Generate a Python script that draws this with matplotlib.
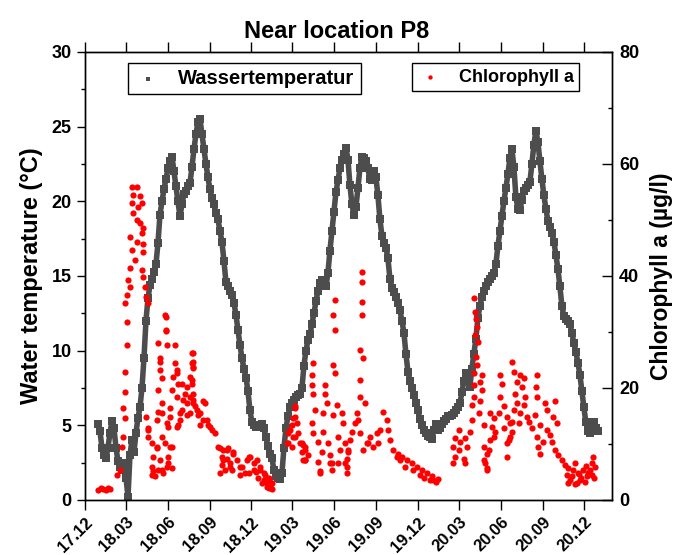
import datetime as dt
import numpy as np
import matplotlib
matplotlib.use("Agg")
import matplotlib.pyplot as plt
import matplotlib.dates as mdates
from matplotlib.ticker import MultipleLocator

plt.rcParams['font.family'] = ['Liberation Sans', 'DejaVu Sans']
plt.rcParams['font.weight'] = 'bold'

# reference date, all day offsets below count from here
origin = dt.datetime(2017, 12, 1)

# water temperature (degC), logged every ~4.4 days starting 29.12.2017
temp_first_day = 28.5
temp_step = 4.39
water_temp = [
    5.1, 4.6, 3.5, 3.0, 2.8, 3.5, 4.5, 5.3, 4.8, 3.5, 2.6, 2.2, 2.0, 2.5, 1.5, 0.2,
    3.0, 4.0, 3.2, 4.5, 5.5, 6.2, 7.5, 9.5, 12.0, 13.5, 14.4, 14.8, 15.3, 15.8, 17.2, 19.1,
    20.0, 20.8, 21.5, 22.2, 22.7, 23.0, 22.0, 21.0, 20.0, 19.0, 19.8, 20.5, 20.7, 21.0, 21.2, 22.3,
    23.5, 24.5, 25.3, 25.5, 24.5, 23.5, 22.5, 21.6, 20.8, 20.2, 19.8, 19.2, 18.8, 18.0, 17.3, 16.0,
    14.6, 14.3, 14.0, 13.7, 13.2, 12.4, 11.4, 10.4, 9.5, 8.8, 8.2, 7.3, 6.0, 5.2, 5.0, 4.9,
    5.0, 5.0, 5.1, 4.8, 4.2, 3.6, 3.1, 2.8, 2.0, 1.6, 1.5, 1.4, 1.8, 3.5, 4.8, 5.6,
    6.2, 6.5, 6.7, 6.9, 7.0, 7.1, 7.5, 9.0, 10.0, 10.7, 11.1, 11.8, 12.5, 13.3, 14.0, 14.5,
    14.7, 14.5, 14.3, 15.2, 16.7, 18.0, 19.3, 20.6, 21.4, 22.2, 22.8, 23.2, 23.6, 22.8, 21.1, 19.8,
    19.1, 19.6, 20.9, 22.2, 23.0, 22.9, 22.7, 22.2, 21.5, 21.4, 22.0, 21.6, 20.4, 18.8, 17.7, 17.2,
    16.9, 16.2, 14.8, 14.2, 13.9, 13.6, 13.2, 12.7, 12.0, 11.2, 9.8, 8.6, 8.0, 7.5, 7.0, 6.5,
    6.0, 5.4, 5.0, 4.7, 4.5, 4.3, 4.2, 4.1, 4.7, 5.1, 4.7, 4.8, 5.1, 5.3, 5.4, 5.6,
    5.6, 5.7, 5.8, 6.0, 6.2, 6.5, 7.2, 8.0, 8.5, 8.2, 7.6, 8.8, 9.8, 10.8, 12.2, 13.0,
    13.6, 14.0, 14.3, 14.6, 14.8, 15.0, 15.2, 15.8, 17.0, 18.0, 19.0, 20.0, 20.9, 21.8, 22.9, 23.5,
    22.3, 20.3, 19.5, 19.4, 20.1, 20.7, 20.9, 21.1, 21.3, 22.5, 23.8, 24.7, 24.0, 22.7, 21.5, 20.4,
    19.5, 18.7, 18.3, 17.9, 17.3, 16.4, 15.5, 14.3, 13.0, 12.3, 12.1, 12.0, 11.8, 11.2, 10.5, 9.9,
    9.2, 8.4, 7.3, 6.2, 5.2, 4.6, 4.5, 5.1, 5.2, 4.8, 4.6,
]

# chlorophyll a samples: (day offset, ug/l)
chl_2018 = [
    (29, 1.8), (35, 2.1), (40, 2.0), (46, 1.8), (51, 2.1), (55, 2.0),
    (103, 55.9), (114, 55.9), (106, 54.5), (121, 54.2), (103, 53.0), (117, 52.4), (125, 53.0),
    (106, 51.2), (114, 50.0), (121, 49.4), (128, 48.5), (125, 47.6), (99, 47.0), (114, 46.1),
    (128, 45.8), (103, 44.6), (128, 44.3), (110, 42.9), (99, 41.4), (125, 41.1), (95, 39.3),
    (128, 39.9), (99, 38.1), (132, 38.1), (92, 36.6), (135, 36.3), (139, 35.1), (88, 35.1),
    (92, 31.8), (92, 27.7), (88, 22.9), (88, 19.3), (84, 16.4), (88, 14.6), (84, 11.3),
    (81, 9.5), (77, 5.4), (70, 4.5),
    (178, 32.7), (178, 30.1), (161, 28.0), (179, 27.7), (198, 27.7), (165, 24.7), (198, 24.4),
    (234, 26.2), (234, 24.4), (168, 21.7), (201, 22.6), (231, 22.0), (161, 19.6), (190, 19.6),
    (205, 20.8), (223, 20.2), (231, 18.4), (216, 17.9), (238, 17.3), (245, 16.1), (168, 17.3),
    (161, 15.8), (187, 16.4), (209, 15.5), (223, 15.2), (135, 14.9), (139, 12.8), (179, 13.7),
    (201, 13.1), (139, 11.3), (146, 10.1), (157, 9.5), (168, 11.3), (187, 9.5), (150, 7.7),
    (165, 7.1), (183, 6.6), (150, 5.1), (168, 5.4), (190, 5.7), (146, 4.5),
    (176, 33.0), (178, 30.4), (238, 23.8), (165, 25.3), (165, 23.2), (201, 23.2), (212, 20.8),
    (234, 20.8), (194, 22.0), (220, 19.0), (201, 18.4), (238, 19.0), (223, 17.3), (242, 16.7),
    (264, 17.3), (212, 16.1), (231, 15.5), (249, 15.2), (260, 14.3), (271, 13.4), (278, 12.5),
    (285, 11.9), (253, 13.4), (209, 14.3), (187, 14.9), (168, 15.5), (157, 14.3), (183, 13.1),
    (205, 13.4), (139, 12.5), (157, 9.2), (176, 10.1), (190, 9.5), (183, 7.7), (146, 5.9),
    (161, 5.4), (179, 5.9), (154, 4.2), (172, 4.8),
    (238, 26.2), (238, 24.7), (238, 23.5), (234, 21.4), (238, 17.9), (260, 17.6), (253, 15.5),
    (267, 14.3), (275, 13.1),
    (296, 9.2), (311, 8.9), (326, 8.6), (304, 7.1), (333, 7.1), (296, 4.8), (318, 5.9),
    (359, 7.7), (370, 6.6), (344, 5.9), (384, 5.4), (359, 4.8), (395, 4.5), (406, 3.3),
    (403, 2.1), (340, 4.5), (293, 9.5), (304, 8.9), (315, 9.2), (300, 7.7), (311, 7.4),
    (326, 8.3), (300, 6.3), (318, 6.6), (307, 5.4), (340, 5.9), (355, 7.1), (362, 7.7),
    (377, 7.1), (384, 5.9), (351, 4.8), (370, 5.4), (392, 4.8), (403, 3.9), (410, 3.0),
    (399, 2.4), (322, 5.4), (392, 3.5), (399, 3.0), (406, 2.5), (410, 1.9), (380, 4.0),
    (388, 3.0), (375, 5.0),
]

chl_2019 = [
    (461, 16.7), (461, 14.9), (454, 13.4), (446, 11.9), (457, 11.3), (468, 11.9), (443, 10.1),
    (454, 9.5), (472, 10.1), (483, 9.5), (476, 8.6), (483, 7.1), (490, 8.0), (461, 16.4),
    (457, 14.6), (450, 12.5), (446, 10.1), (465, 13.7), (461, 11.3), (476, 10.1), (483, 8.9),
    (479, 7.1),
    (608, 40.8), (608, 39.0), (608, 35.4), (608, 33.0), (549, 35.7), (545, 33.0), (549, 30.4),
    (604, 26.8), (610, 25.3), (545, 24.1), (549, 22.6), (604, 21.4), (501, 24.4), (498, 22.3),
    (498, 20.5), (501, 19.0), (527, 20.5), (527, 19.0), (604, 18.4), (615, 17.3), (531, 17.3),
    (553, 17.0), (505, 16.1), (523, 15.5), (545, 15.2), (564, 15.5), (597, 15.5), (567, 13.7),
    (593, 13.7), (498, 13.7), (523, 12.2), (501, 11.9), (556, 11.3), (586, 12.2), (604, 11.9),
    (512, 10.4), (534, 10.1), (571, 10.1), (582, 10.7), (622, 10.1), (479, 9.8), (560, 8.9),
    (578, 8.6), (520, 8.6), (538, 8.0), (483, 7.1), (512, 6.8), (542, 6.6), (575, 5.9),
    (516, 5.1), (542, 5.4), (556, 6.6), (575, 7.4),
    (655, 15.8), (663, 14.3), (648, 12.5), (641, 11.9), (626, 11.3), (619, 10.1), (633, 9.5),
    (644, 10.1), (666, 12.5), (670, 10.7), (677, 8.9), (688, 8.3), (695, 7.7), (706, 7.1),
    (717, 6.6), (728, 5.9), (739, 5.4), (750, 4.8), (761, 4.2), (765, 3.6), (703, 5.9),
    (721, 5.4), (736, 4.5), (692, 7.1), (685, 7.7), (600, 14.3), (611, 8.9), (578, 8.9),
    (575, 4.8), (571, 6.6), (538, 6.6), (516, 4.8), (770, 3.2), (775, 3.8), (757, 3.5),
    (745, 4.0),
]

chl_2020 = [
    (853, 36.0), (856, 33.6), (859, 32.4), (860, 30.9), (856, 29.5), (862, 28.3), (859, 25.6),
    (860, 24.1), (853, 22.6), (871, 22.3), (867, 21.1), (853, 20.5), (871, 19.6), (853, 18.4),
    (867, 17.6), (849, 17.0), (864, 15.5), (849, 14.3), (845, 12.2), (875, 13.4), (820, 12.5),
    (813, 11.0), (824, 10.4), (834, 11.0), (809, 9.5), (820, 8.9), (838, 9.5), (813, 7.7),
    (831, 7.4), (809, 6.6), (834, 6.6), (875, 9.5), (882, 8.3), (878, 6.6), (882, 5.4),
    (889, 15.5), (897, 14.6), (893, 13.1), (900, 12.2), (889, 10.7), (911, 22.3), (915, 20.8),
    (911, 18.4), (919, 16.7), (908, 15.5), (926, 14.9), (933, 13.7), (919, 12.8), (933, 11.3),
    (926, 10.1), (937, 24.7), (941, 22.9), (955, 22.3), (948, 21.1), (963, 21.7), (959, 20.2),
    (944, 19.0), (966, 18.4), (948, 17.3), (963, 17.0), (941, 16.1), (955, 15.5), (952, 13.7),
    (937, 14.0), (970, 14.9), (992, 22.3), (990, 20.2), (992, 18.4), (1010, 17.3), (1032, 17.6),
    (1014, 16.1), (1028, 14.9), (1036, 13.7), (988, 15.2), (974, 14.0), (981, 12.8), (999, 13.4),
    (1014, 12.5), (992, 11.3), (1006, 10.4), (1021, 11.6), (995, 9.5), (999, 8.3), (1025, 10.4),
    (1032, 8.9), (1039, 8.0), (1047, 7.1), (1054, 6.3), (1061, 5.7), (1072, 5.4), (1069, 4.2),
    (1083, 4.8), (1087, 3.6), (1094, 5.4), (1102, 4.2), (1109, 5.4), (1113, 6.6), (1116, 7.7),
    (1120, 5.9), (1076, 6.6), (886, 8.9), (897, 11.3), (875, 7.1), (882, 5.7), (930, 10.7),
    (937, 12.2), (926, 7.7), (1058, 4.5), (1065, 3.5), (1080, 3.0), (1090, 4.0), (1098, 3.2),
    (1105, 4.8), (1100, 6.0), (1112, 4.5), (1118, 4.0), (1060, 3.0), (1075, 2.8), (1085, 4.6),
]

t0 = mdates.date2num(origin)
temp_x = t0 + temp_first_day + np.arange(len(water_temp)) * temp_step
chl = np.array(chl_2018 + chl_2019 + chl_2020, dtype=float)
chl_x = t0 + chl[:, 0]
chl_y = chl[:, 1]

gray = '#4d4d4d'

fig = plt.figure(figsize=(6.82, 5.55), dpi=100)
ax = fig.add_axes([85 / 682, 55 / 555, 527 / 682, 448 / 555])
ax2 = ax.twinx()

# dense logger data -> thick band of squares
ax.plot(temp_x, water_temp, color=gray, lw=4, solid_capstyle='butt', zorder=1)
ax.scatter(temp_x, water_temp, marker='s', s=34, color=gray, linewidths=0,
           label='Wassertemperatur', zorder=2)
ax2.scatter(chl_x, chl_y, marker='o', s=20, color='red', linewidths=0,
            label='Chlorophyll a')

ax.set_xlim(t0, t0 + 1157)
ax.set_ylim(0, 30)
ax2.set_ylim(0, 80)

ax.xaxis.set_major_locator(mdates.MonthLocator(bymonth=(3, 6, 9, 12)))
ax.xaxis.set_major_formatter(mdates.DateFormatter('%y.%m'))
ax.yaxis.set_major_locator(MultipleLocator(5))
ax.yaxis.set_minor_locator(MultipleLocator(2.5))
ax2.yaxis.set_major_locator(MultipleLocator(20))
ax2.yaxis.set_minor_locator(MultipleLocator(10))

ax.tick_params(axis='y', which='major', direction='out', length=6, width=1, labelsize=13)
ax.tick_params(axis='y', which='minor', direction='out', length=3, width=1)
ax.tick_params(axis='x', which='major', direction='out', length=7, width=1, labelsize=12,
               top=True, labeltop=False)
ax2.tick_params(axis='y', which='major', direction='in', length=7, width=1, labelsize=13, pad=5)
ax2.tick_params(axis='y', which='minor', direction='in', length=3, width=1)
for lab in ax.get_xticklabels():
    lab.set_rotation(45)
    lab.set_ha('right')
    lab.set_rotation_mode('anchor')

for a in (ax, ax2):
    for sp in a.spines.values():
        sp.set_linewidth(1.0)
        sp.set_color('black')

ax.set_ylabel('Water temperature (\u00b0C)', fontsize=17, fontweight='bold', labelpad=6)
ax2.set_ylabel('Chlorophyll a (\u00b5g/l)', fontsize=16.5, fontweight='bold', labelpad=8)
fig.text(337 / 682, 1 - 31 / 555, 'Near location P8', fontsize=17, fontweight='bold',
         ha='center', va='center')

leg1 = ax.legend(loc='upper left', bbox_to_anchor=(0.0816, 0.975), borderaxespad=0,
                 fontsize=14.5, frameon=True, fancybox=False, edgecolor='black',
                 framealpha=1, handletextpad=0.8, borderpad=0.3, handlelength=1.4,
                 markerscale=0.55)
leg1.get_frame().set_linewidth(1.0)
leg2 = ax2.legend(loc='upper left', bbox_to_anchor=(0.6205, 0.975), borderaxespad=0,
                  fontsize=13, frameon=True, fancybox=False, edgecolor='black',
                  framealpha=1, handletextpad=0.9, borderpad=0.3, handlelength=1.4,
                  markerscale=0.7)
leg2.get_frame().set_linewidth(1.0)

fig.savefig('out.png', dpi=100)
